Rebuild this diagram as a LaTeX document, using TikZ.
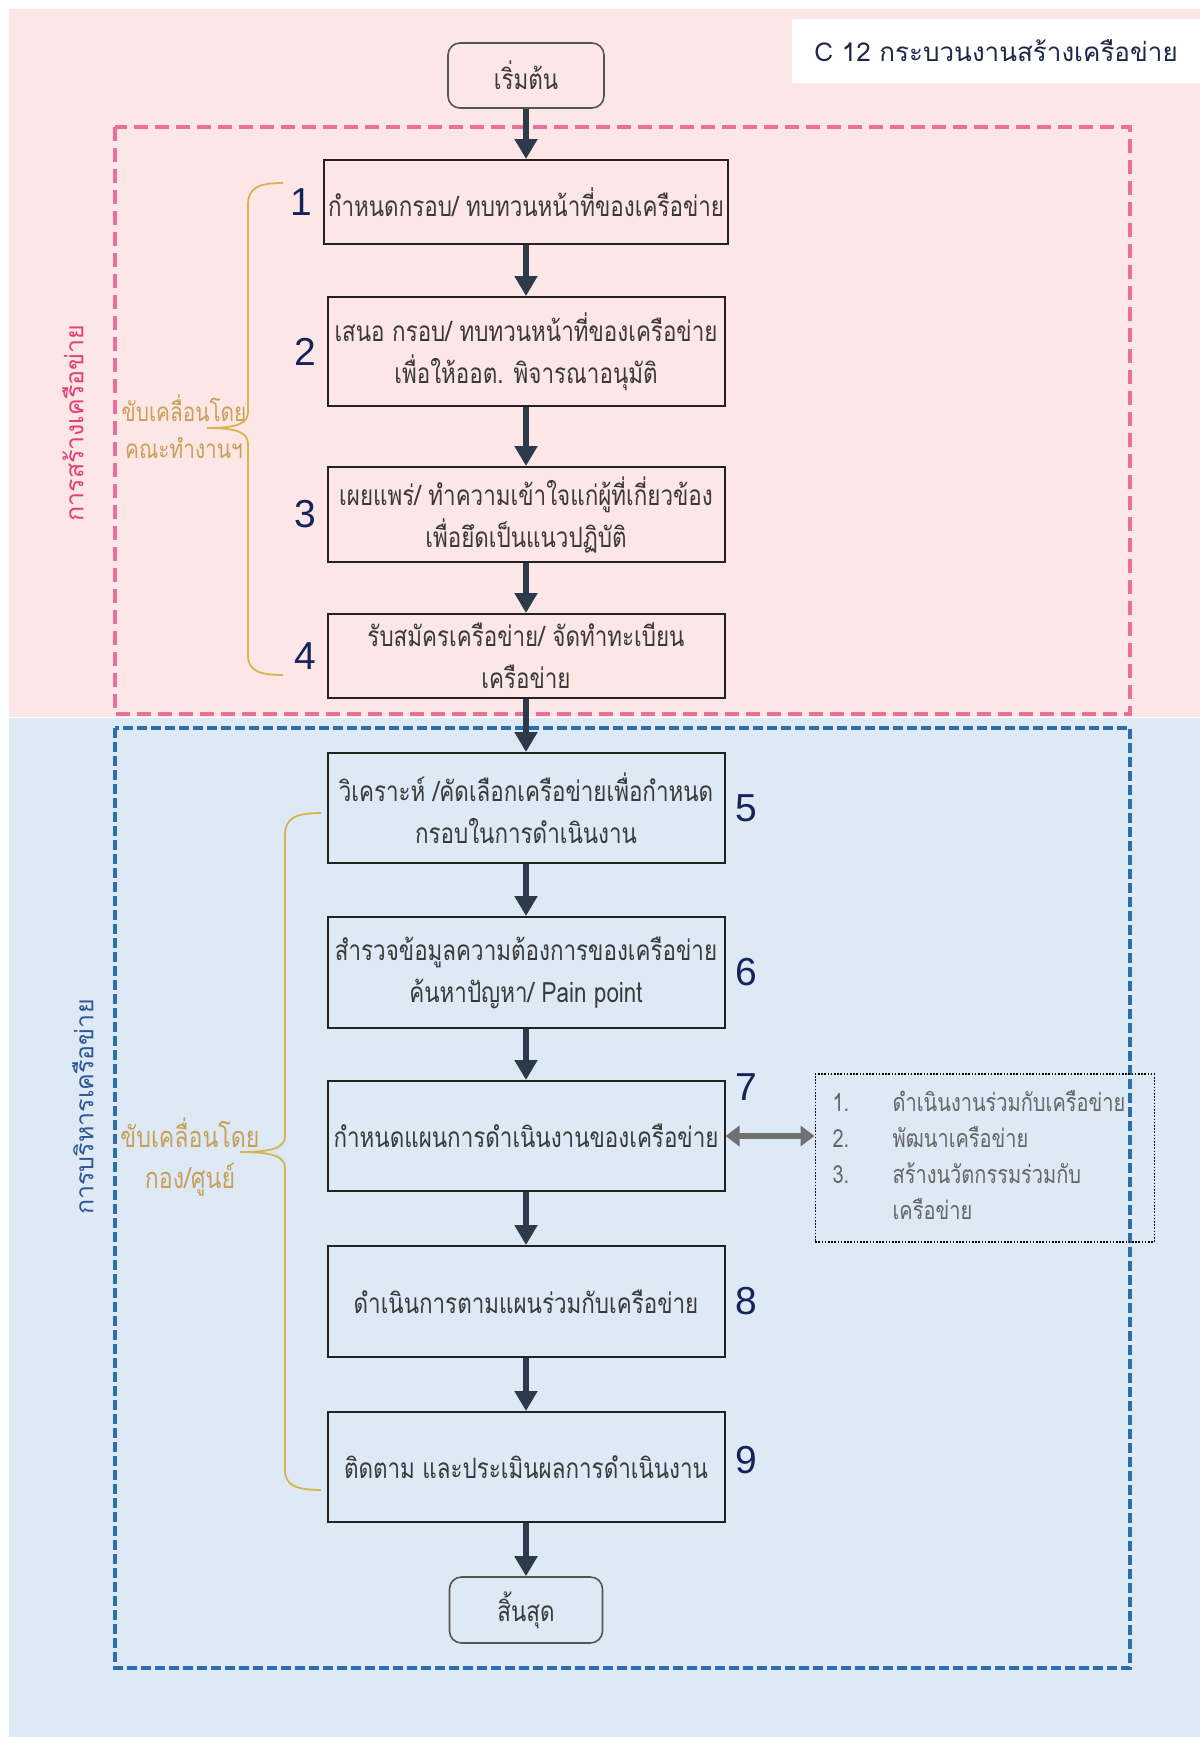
\documentclass[tikz,border=0pt]{standalone}
\usepackage{fontspec}
\setmainfont[Script=Thai]{Loma}
\newfontfamily\boxfont[Script=Thai,FakeStretch=0.8]{Loma}
\newfontfamily\numfont{Liberation Sans}
\usetikzlibrary{positioning,arrows.meta}

\definecolor{pinkbg}{HTML}{FDE6E6}
\definecolor{bluebg}{HTML}{DDE9F5}
\definecolor{pinkdash}{HTML}{EA709A}
\definecolor{bluedash}{HTML}{2E6EAA}
\definecolor{pinklabel}{HTML}{E23E78}
\definecolor{bluelabel}{HTML}{2F5597}
\definecolor{goldline}{HTML}{D8B450}
\definecolor{goldtext}{HTML}{C8A05A}
\definecolor{arrowcol}{HTML}{2D3A4B}
\definecolor{greyarrow}{HTML}{707070}
\definecolor{numblue}{HTML}{14235A}
\definecolor{titletext}{HTML}{1E2846}
\definecolor{boxtext}{HTML}{3A3A3A}
\definecolor{boxline}{HTML}{222222}
\definecolor{termline}{HTML}{555555}
\definecolor{listtext}{HTML}{666666}

\begin{document}
\begin{tikzpicture}[
        x=0.5pt, y=-0.5pt,
        node distance=40pt,
        auto,
        task/.style={rectangle, draw=boxline, line width=1pt, minimum width=198.5pt, align=center, inner sep=2pt, text=boxtext, font=\boxfont\fontsize{14}{21}\selectfont},
        terminal/.style={rectangle, draw=termline, line width=0.8pt, rounded corners=6pt, minimum width=78pt, minimum height=32.5pt, text=boxtext, font=\boxfont\fontsize{14}{21}\selectfont},
        num/.style={inner sep=0pt, text=numblue, font=\numfont\fontsize{19.5}{19.5}\selectfont},
        arrow/.style={-{Triangle[length=10pt,width=11pt]}, line width=2.8pt, draw=arrowcol},
        twoway/.style={{Triangle[length=7pt,width=10pt]}-{Triangle[length=7pt,width=10pt]}, line width=2.8pt, draw=greyarrow},
        listbox/.style={rectangle, draw=black, line width=0.6pt, dash pattern=on 0.8pt off 0.8pt, minimum width=169.5pt, minimum height=84pt, text width=152pt, inner xsep=8.5pt, align=left, text=listtext, font=\boxfont\fontsize{12.5}{18}\selectfont},
        titlebox/.style={rectangle, fill=white, minimum width=204pt, minimum height=32pt, text=titletext, font=\fontsize{13}{15}\selectfont},
        sidelabel/.style={rotate=90, font=\fontsize{12.5}{14}\selectfont},
        drivelabel/.style={align=center, text=goldtext},
        drivebrace/.style={draw=goldline, line width=0.9pt},
        zonebox/.style={line width=2pt}
    ]
        % backgrounds of the two zones
        \useasboundingbox (0,0) rectangle (1200,1737);
        \fill[white] (0,0) rectangle (1200,1737);
        \fill[pinkbg] (9,9) rectangle (1200,716.5);
        \fill[bluebg] (9,718) rectangle (1200,1737);
        \draw[zonebox, draw=pinkdash, dash pattern=on 7pt off 3.5pt] (115,127) rectangle (1130,714);
        \draw[zonebox, draw=bluedash, dash pattern=on 5pt off 2pt] (115,728) rectangle (1130,1668);

        \node[titlebox] (title) at (996,51) {C 12 กระบวนงานสร้างเครือข่าย};
        \node[sidelabel, text=pinklabel] (buildlabel) at (73,423) {การสร้างเครือข่าย};
        \node[sidelabel, text=bluelabel] (managelabel) at (83,1107) {การบริหารเครือข่าย};

        % main flow
        \node[terminal] (start) at (526,75.5) {เริ่มต้น};
        \node[task, minimum height=42pt, below of=start, node distance=63.25pt] (task1) {กำหนดกรอบ/ ทบทวนหน้าที่ของเครือข่าย};
        \node[task, minimum height=54.5pt, below of=task1, node distance=74.75pt] (task2) {เสนอ กรอบ/ ทบทวนหน้าที่ของเครือข่าย\\เพื่อให้ออต. พิจารณาอนุมัติ};
        \node[task, minimum height=47.5pt, below of=task2, node distance=81.5pt] (task3) {เผยแพร่/ ทำความเข้าใจแก่ผู้ที่เกี่ยวข้อง\\เพื่อยึดเป็นแนวปฏิบัติ};
        \node[task, minimum height=42pt, below of=task3, node distance=70.75pt] (task4) {รับสมัครเครือข่าย/ จัดทำทะเบียน\\เครือข่าย};
        \node[task, minimum height=55pt, below of=task4, node distance=76pt] (task5) {วิเคราะห์ /คัดเลือกเครือข่ายเพื่อกำหนด\\กรอบในการดำเนินงาน};
        \node[task, minimum height=55.5pt, below of=task5, node distance=82.25pt] (task6) {สำรวจข้อมูลความต้องการของเครือข่าย\\ค้นหาปัญหา/ Pain point};
        \node[task, minimum height=55pt, below of=task6, node distance=81.75pt] (task7) {กำหนดแผนการดำเนินงานของเครือข่าย};
        \node[task, minimum height=55.5pt, below of=task7, node distance=82.75pt] (task8) {ดำเนินการตามแผนร่วมกับเครือข่าย};
        \node[task, minimum height=55pt, below of=task8, node distance=82.75pt] (task9) {ติดตาม และประเมินผลการดำเนินงาน};
        \node[terminal, minimum width=76.5pt, minimum height=33pt, below of=task9, node distance=71.5pt] (finish) {สิ้นสุด};

        % step numbers
        \node[num, left=5pt of task1] (n1) {1};
        \node[num, left=5pt of task2] (n2) {2};
        \node[num, left=5pt of task3] (n3) {3};
        \node[num, left=5pt of task4] (n4) {4};
        \node[num, right=5pt of task5] (n5) {5};
        \node[num, right=5pt of task6] (n6) {6};
        \node[num, right=5pt of task7.north east, anchor=north west, yshift=3.5pt] (n7) {7};
        \node[num, right=5pt of task8] (n8) {8};
        \node[num, right=5pt of task9, yshift=3.5pt] (n9) {9};

        \node[listbox, right=44.5pt of task7, yshift=-11pt] (options) {%
            \begin{tabular}{@{}p{30pt}@{}l@{}}
                1. & ดำเนินงานร่วมกับเครือข่าย\\
                2. & พัฒนาเครือข่าย\\
                3. & สร้างนวัตกรรมร่วมกับ\\
                   & เครือข่าย
            \end{tabular}};

        % who drives each zone
        \node[drivelabel, font=\boxfont\fontsize{13}{18.5}\selectfont] (drive1) at (184,427) {ขับเคลื่อนโดย\\คณะทำงานฯ};
        \node[drivelabel, font=\boxfont\fontsize{14.5}{20.5}\selectfont] (drive2) at (190,1157) {ขับเคลื่อนโดย\\กอง/ศูนย์};
        \draw[drivebrace] (283,183) .. controls (258,183) and (248,188) .. (248,205) -- (248,412)
            .. controls (248,424) and (236,428) .. (207,428)
            .. controls (236,428) and (248,432) .. (248,444) -- (248,655)
            .. controls (248,670) and (258,675) .. (283,675);
        \draw[drivebrace] (321,813) .. controls (296,813) and (285,818) .. (285,835) -- (285,1136)
            .. controls (285,1148) and (272,1152) .. (240,1152)
            .. controls (272,1152) and (285,1156) .. (285,1168) -- (285,1470)
            .. controls (285,1485) and (296,1490) .. (321,1490);

        \draw[arrow] (start) -- (task1);
        \draw[arrow] (task1) -- (task2);
        \draw[arrow] (task2) -- (task3);
        \draw[arrow] (task3) -- (task4);
        \draw[arrow] (task4) -- (task5);
        \draw[arrow] (task5) -- (task6);
        \draw[arrow] (task6) -- (task7);
        \draw[arrow] (task7) -- (task8);
        \draw[arrow] (task8) -- (task9);
        \draw[arrow] (task9) -- (finish);
        \draw[twoway] (task7.east) -- (task7.east -| options.west);
    \end{tikzpicture}
\end{document}
